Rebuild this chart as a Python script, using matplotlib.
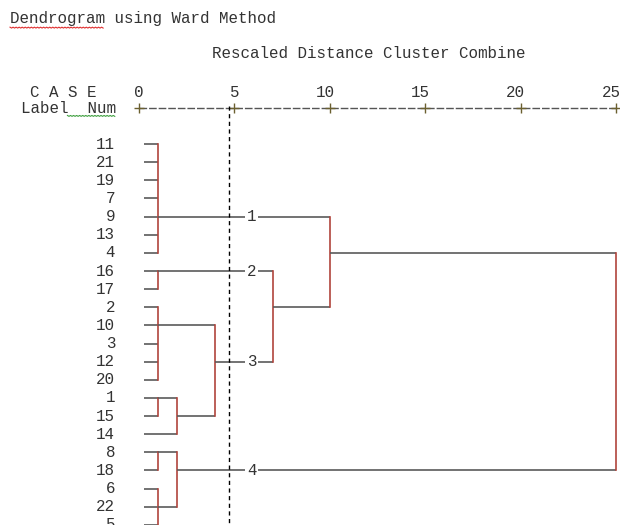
import numpy as np
import matplotlib.pyplot as plt

# leaf order from top to bottom (case numbers)
leaf_labels = ['11', '21', '19', '7', '9', '13', '4', '16', '17', '2', '10',
               '3', '12', '20', '1', '15', '14', '8', '18', '6', '22', '5']

# first-step groups: first row, last row, row the link leaves from, distance
group_first = [0, 7, 9, 14, 16, 17, 19]
group_last = [6, 8, 13, 15, 16, 18, 21]
group_attach = [4, 7, 10, 14, 16, 17, 20]
group_dist = [1, 1, 1, 1, 0, 1, 1]

# later merges: node a, node b, rescaled distance (new nodes numbered after groups)
merge_a = [3, 5, 2, 1, 0, 11]
merge_b = [4, 6, 7, 9, 10, 8]
merge_dist = [2, 2, 4, 7, 10, 25]

tick_values = [0, 5, 10, 15, 20, 25]
cut_dist = 4.7

FONT = 'Liberation Mono'
FS = 11.4
TXT = '#333333'
HCOL = '#5a5a5a'
VCOL = '#b0443c'
LEAF_X0 = 0.26

fig = plt.figure(figsize=(6.2, 5.25), dpi=100)
ax = fig.add_axes([0, 0, 1, 1])
ax.set_xlim(-139 / 19.08, (620 - 139) / 19.08)
ax.set_ylim((525 - 144.1) / 18.13, -144.1 / 18.13)
ax.axis('off')

# nodes: (x position, attach row)
nodes = []
for f, l, a, d in zip(group_first, group_last, group_attach, group_dist):
    if l > f:
        for r in range(f, l + 1):
            ax.plot([LEAF_X0, d], [r, r], color=HCOL, lw=1.2, solid_capstyle='butt')
        ax.plot([d, d], [f, l], color=VCOL, lw=1.2)
        nodes.append((d, a))
    else:
        nodes.append((LEAF_X0, a))

parent_dist = {}
for a, b, d in zip(merge_a, merge_b, merge_dist):
    xa, ra = nodes[a]
    xb, rb = nodes[b]
    ax.plot([xa, d], [ra, ra], color=HCOL, lw=1.2, solid_capstyle='butt')
    ax.plot([xb, d], [rb, rb], color=HCOL, lw=1.2, solid_capstyle='butt')
    ax.plot([d, d], [ra, rb], color=VCOL, lw=1.2)
    parent_dist[a] = d
    parent_dist[b] = d
    nodes.append((d, (ra + rb) // 2))

# cluster numbers where the cut crosses the tree
clusters = [i for i, (x, r) in enumerate(nodes)
            if x < cut_dist and parent_dist.get(i, 0) > cut_dist]
clusters.sort(key=lambda i: nodes[i][1])
for k, i in enumerate(clusters, 1):
    ax.text(5.9, nodes[i][1], str(k), ha='center', va='center', family=FONT,
            fontsize=FS, color=TXT,
            bbox=dict(boxstyle='square,pad=0.12', fc='white', ec='none'))

# leaf labels
for r, lab in enumerate(leaf_labels):
    ax.text(-1.25, r, lab, ha='right', va='center', family=FONT, fontsize=FS, color=TXT)

# header
ax.text(-6.76, -6.95, 'Dendrogram using Ward Method', ha='left', va='center',
        family=FONT, fontsize=FS, color=TXT)
ax.text(3.83, -4.97, 'Rescaled Distance Cluster Combine', ha='left', va='center',
        family=FONT, fontsize=FS, color=TXT)
ax.text(-5.71, -2.86, 'C A S E', ha='left', va='center', family=FONT, fontsize=FS, color=TXT)
ax.text(-1.2, -1.99, 'Label  Num', ha='right', va='center', family=FONT, fontsize=FS, color=TXT)
for t in tick_values:
    ax.text(t + 0.25, -2.86, str(t), ha='right', va='center', family=FONT,
            fontsize=FS, color=TXT)
ax.plot([0, 25], [-1.99, -1.99], color='#555555', lw=1.0, dashes=(5.5, 1.4))
ax.plot(tick_values, [-1.99] * len(tick_values), '+', color='#6b6030', ms=7, mew=1.0)

# cut line
ax.plot([cut_dist, cut_dist], [-2.1, 21.1], color='black', lw=1.0, dashes=(3, 2.5))

# spell-check squiggles
zx = np.arange(-6.76, -1.8, 0.08)
ax.plot(zx, -6.45 + 0.05 * (np.arange(len(zx)) % 2), color='#e03030', lw=0.8)
zx = np.arange(-3.75, -1.2, 0.08)
ax.plot(zx, -1.58 + 0.05 * (np.arange(len(zx)) % 2), color='#40a040', lw=0.8)

fig.savefig('out.png', dpi=100)
